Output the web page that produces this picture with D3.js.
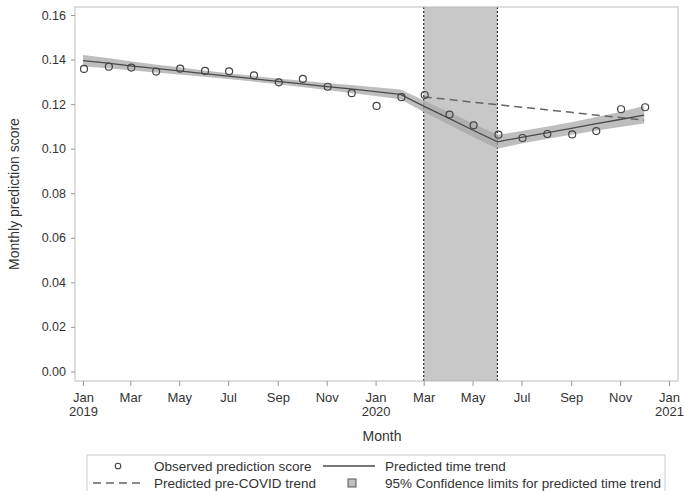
<!DOCTYPE html>
<html>
<head>
<meta charset="utf-8">
<script src="https://cdn.jsdelivr.net/npm/d3@7"></script>
<style>
  body { margin: 0; background: #fff; }
  svg { font-family: "Liberation Sans", Arial, sans-serif; }
</style>
</head>
<body>
<div id="chart"></div>
<script>
// monthly data, Jan 2019 - Dec 2020
const months = ["2019-01","2019-02","2019-03","2019-04","2019-05","2019-06","2019-07","2019-08","2019-09","2019-10","2019-11","2019-12",
                "2020-01","2020-02","2020-03","2020-04","2020-05","2020-06","2020-07","2020-08","2020-09","2020-10","2020-11","2020-12"];
const observed = [0.1358,0.1368,0.1364,0.1346,0.1359,0.1349,0.1347,0.1329,0.1298,0.1313,0.1278,0.1249,
                  0.1192,0.1231,0.1241,0.1153,0.1105,0.1063,0.1048,0.1066,0.1064,0.1079,0.1177,0.1186];
const predicted = [0.1395,0.1384,0.1372,0.1360,0.1349,0.1337,0.1326,0.1314,0.1302,0.1291,0.1279,0.1268,
                   0.1256,0.1244,0.1191,0.1137,0.1084,0.1031,0.1051,0.1071,0.1091,0.1111,0.1131,0.1151];
const ciLower = [0.1369,0.1361,0.1352,0.1342,0.1333,0.1323,0.1313,0.1301,0.1289,0.1277,0.1263,0.1250,
                 0.1236,0.1222,0.1165,0.1109,0.1054,0.1000,0.1023,0.1044,0.1063,0.1081,0.1097,0.1113];
const ciUpper = [0.1421,0.1407,0.1392,0.1378,0.1365,0.1351,0.1339,0.1327,0.1315,0.1305,0.1295,0.1286,
                 0.1276,0.1266,0.1217,0.1165,0.1114,0.1062,0.1079,0.1098,0.1119,0.1141,0.1165,0.1192];
// pre-covid trend extended, Mar 2020 - Dec 2020
const preCovidMonths = ["2020-03","2020-04","2020-05","2020-06","2020-07","2020-08","2020-09","2020-10","2020-11","2020-12"];
const preCovid = [0.1232,0.1221,0.1209,0.1198,0.1186,0.1175,0.1163,0.1151,0.1140,0.1128];
// covid period shading
const covidStart = "2020-03", covidEnd = "2020-06";
const xTicks = ["2019-01","2019-03","2019-05","2019-07","2019-09","2019-11","2020-01","2020-03","2020-05","2020-07","2020-09","2020-11","2021-01"];
const yTicks = [0,0.02,0.04,0.06,0.08,0.10,0.12,0.14,0.16];

const parse = d3.timeParse("%Y-%m");
const W = 685, H = 491;
const frame = {left: 75, top: 7, right: 678, bottom: 381};

const svg = d3.select("#chart").append("svg")
    .attr("width", W)
    .attr("height", H);

const x = d3.scaleTime()
    .domain([parse("2019-01"), parse("2021-01")])
    .range([83, 669]);
const y = d3.scaleLinear()
    .domain([0, 0.16])
    .range([371.5, 15]);

const data = months.map((m, i) => ({
    date: parse(m), obs: observed[i], pred: predicted[i], lo: ciLower[i], hi: ciUpper[i]
}));
const pre = preCovidMonths.map((m, i) => ({date: parse(m), v: preCovid[i]}));

// covid shading
const cx0 = x(parse(covidStart)), cx1 = x(parse(covidEnd));
svg.append("rect")
    .attr("x", cx0).attr("y", frame.top)
    .attr("width", cx1 - cx0).attr("height", frame.bottom - frame.top)
    .attr("fill", "#c8c8c8");
[cx0, cx1].forEach(v => {
  svg.append("line")
    .attr("x1", v).attr("x2", v)
    .attr("y1", frame.top).attr("y2", frame.bottom)
    .attr("stroke", "#333").attr("stroke-width", 1.2)
    .attr("stroke-dasharray", "2,2");
});

// confidence band
svg.append("path")
    .datum(data)
    .attr("fill", "#a8a8a8")
    .attr("fill-opacity", 0.75)
    .attr("d", d3.area().x(d => x(d.date)).y0(d => y(d.lo)).y1(d => y(d.hi)));

// pre-covid trend
svg.append("path")
    .datum(pre)
    .attr("fill", "none")
    .attr("stroke", "#666")
    .attr("stroke-width", 1.5)
    .attr("stroke-dasharray", "8,5")
    .attr("d", d3.line().x(d => x(d.date)).y(d => y(d.v)));

// predicted trend
svg.append("path")
    .datum(data)
    .attr("fill", "none")
    .attr("stroke", "#4a4a4a")
    .attr("stroke-width", 1.3)
    .attr("d", d3.line().x(d => x(d.date)).y(d => y(d.pred)));

// observed points
svg.selectAll("circle.obs")
    .data(data)
    .join("circle")
    .attr("class", "obs")
    .attr("cx", d => x(d.date) + 1)
    .attr("cy", d => y(d.obs))
    .attr("r", 3.5)
    .attr("fill", "none")
    .attr("stroke", "#444")
    .attr("stroke-width", 1.2);

// frame
svg.append("rect")
    .attr("x", frame.left).attr("y", frame.top)
    .attr("width", frame.right - frame.left).attr("height", frame.bottom - frame.top)
    .attr("fill", "none").attr("stroke", "#bbb");

// axes
const monthName = d3.timeFormat("%b");
const xAxis = svg.append("g")
    .attr("transform", `translate(0,${frame.bottom})`)
    .call(d3.axisBottom(x).tickValues(xTicks.map(parse)).tickSize(5).tickFormat(""));
xAxis.select(".domain").remove();
xAxis.selectAll(".tick line").attr("stroke", "#999");
xAxis.selectAll(".tick").each(function(d) {
  const t = d3.select(this).append("text")
      .attr("fill", "#333").attr("font-size", 13).attr("text-anchor", "middle")
      .attr("y", 21);
  t.append("tspan").attr("x", 0).text(monthName(d));
  if (d.getMonth() === 0) t.append("tspan").attr("x", 0).attr("dy", 14).text(d.getFullYear());
});

const yAxis = svg.append("g")
    .attr("transform", `translate(${frame.left},0)`)
    .call(d3.axisLeft(y).tickValues(yTicks).tickSize(4).tickFormat(d3.format(".2f")));
yAxis.select(".domain").remove();
yAxis.selectAll(".tick line").attr("stroke", "#999");
yAxis.selectAll(".tick text").attr("fill", "#333").attr("font-size", 12.5).attr("dx", -2);

// axis labels
svg.append("text")
    .attr("x", 382).attr("y", 441)
    .attr("text-anchor", "middle").attr("fill", "#333").attr("font-size", 14)
    .text("Month");
svg.append("text")
    .attr("transform", `translate(19,${(frame.top + frame.bottom) / 2}) rotate(-90)`)
    .attr("text-anchor", "middle").attr("fill", "#333").attr("font-size", 14)
    .text("Monthly prediction score");

// legend
const lg = svg.append("g");
lg.append("rect")
    .attr("x", 87).attr("y", 455).attr("width", 578).attr("height", 40)
    .attr("fill", "none").attr("stroke", "#ccc");
const r1 = 466, r2 = 483;
lg.append("circle").attr("cx", 118).attr("cy", r1).attr("r", 2.8)
    .attr("fill", "none").attr("stroke", "#444").attr("stroke-width", 1.1);
lg.append("line").attr("x1", 323).attr("x2", 375).attr("y1", r1).attr("y2", r1)
    .attr("stroke", "#4a4a4a").attr("stroke-width", 1.3);
lg.append("line").attr("x1", 93).attr("x2", 140).attr("y1", r2).attr("y2", r2)
    .attr("stroke", "#666").attr("stroke-width", 1.5).attr("stroke-dasharray", "8,5");
lg.append("rect").attr("x", 348).attr("y", r2 - 4).attr("width", 8).attr("height", 8)
    .attr("fill", "#c0c0c0").attr("stroke", "#555");
const legendText = [
  {x: 154, y: r1, t: "Observed prediction score"},
  {x: 385, y: r1, t: "Predicted time trend"},
  {x: 154, y: r2, t: "Predicted pre-COVID trend"},
  {x: 385, y: r2, t: "95% Confidence limits for predicted time trend"}
];
lg.selectAll("text.lt")
    .data(legendText)
    .join("text")
    .attr("class", "lt")
    .attr("x", d => d.x).attr("y", d => d.y + 4.5)
    .attr("fill", "#333").attr("font-size", 13.5)
    .text(d => d.t);
</script>
</body>
</html>
